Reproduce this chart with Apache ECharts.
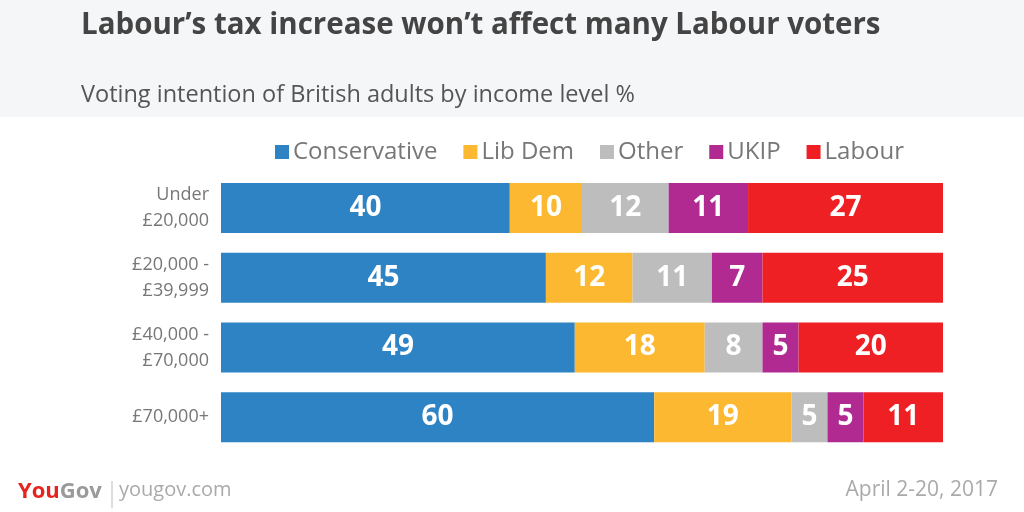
<!DOCTYPE html>
<html><head><meta charset="utf-8">
<script src="https://cdn.jsdelivr.net/npm/echarts@6/dist/echarts.min.js"></script>
<style>html,body{margin:0;padding:0;background:#fff}#c{width:1024px;height:512px}</style>
</head><body><div id="c"></div>
<script>
const categories = ['Under\n£20,000', '£20,000 -\n£39,999', '£40,000 -\n£70,000', '£70,000+'];
const seriesNames = ['Conservative', 'Lib Dem', 'Other', 'UKIP', 'Labour'];
const conservative = [40, 45, 49, 60];
const libDem = [10, 12, 18, 19];
const other = [12, 11, 8, 5];
const ukip = [11, 7, 5, 5];
const labour = [27, 25, 20, 11];
const colors = ['#2e83c5', '#fbb830', '#bdbdbd', '#b02a92', '#ee2024'];
const values = [conservative, libDem, other, ukip, labour];
const F = '"Open Sans"';

const chart = echarts.init(document.getElementById('c'));
chart.setOption({
  animation: false,
  backgroundColor: '#fff',
  graphic: [
    {type: 'rect', shape: {x: 0, y: 0, width: 1024, height: 117}, style: {fill: '#f5f6f8'}, z: -1},
    {type: 'text', left: 81, top: 11, style: {text: 'Labour’s tax increase won’t affect many Labour voters', font: 'bold 29.5px ' + F, fill: '#444'}},
    {type: 'text', left: 81, top: 83, style: {text: 'Voting intention of British adults by income level %', font: '23.5px ' + F, fill: '#555'}},
    {type: 'text', left: 18, top: 481, style: {rich: {a: {fill: '#e5231f', font: 'bold 22px ' + F}, b: {fill: '#9a9a9a', font: 'bold 22px ' + F}}, text: '{a|You}{b|Gov}'}},
    {type: 'line', shape: {x1: 112, y1: 481, x2: 112, y2: 508}, style: {stroke: '#bbb', lineWidth: 1}},
    {type: 'text', left: 119, top: 480, style: {text: 'yougov.com', font: '20px ' + F, fill: '#aaa'}},
    {type: 'text', right: 26, top: 480, style: {text: 'April 2-20, 2017', font: '21px ' + F, fill: '#aaa'}}
  ],
  legend: {
    top: 135, left: 270,
    itemWidth: 14, itemHeight: 14, itemGap: 26,
    icon: 'rect',
    textStyle: {color: '#777', fontSize: 24, fontFamily: F, padding: [0, 0, 0, -1]},
    data: seriesNames
  },
  grid: {left: 221, right: 81, top: 173, bottom: 60, containLabel: false},
  xAxis: {type: 'value', min: 0, max: 100, show: false},
  yAxis: {
    type: 'category', data: categories, inverse: true,
    axisLine: {show: false}, axisTick: {show: false},
    axisLabel: {color: '#777', fontSize: 18, fontFamily: F, lineHeight: 26, margin: 12, align: 'right'}
  },
  series: seriesNames.map((n, i) => ({
    name: n, type: 'bar', stack: 'all', barWidth: 50,
    itemStyle: {color: colors[i]},
    label: {show: true, position: 'inside', color: '#fff', fontSize: 28, fontWeight: 'bold', fontFamily: F},
    data: values[i]
  }))
});
</script></body></html>
